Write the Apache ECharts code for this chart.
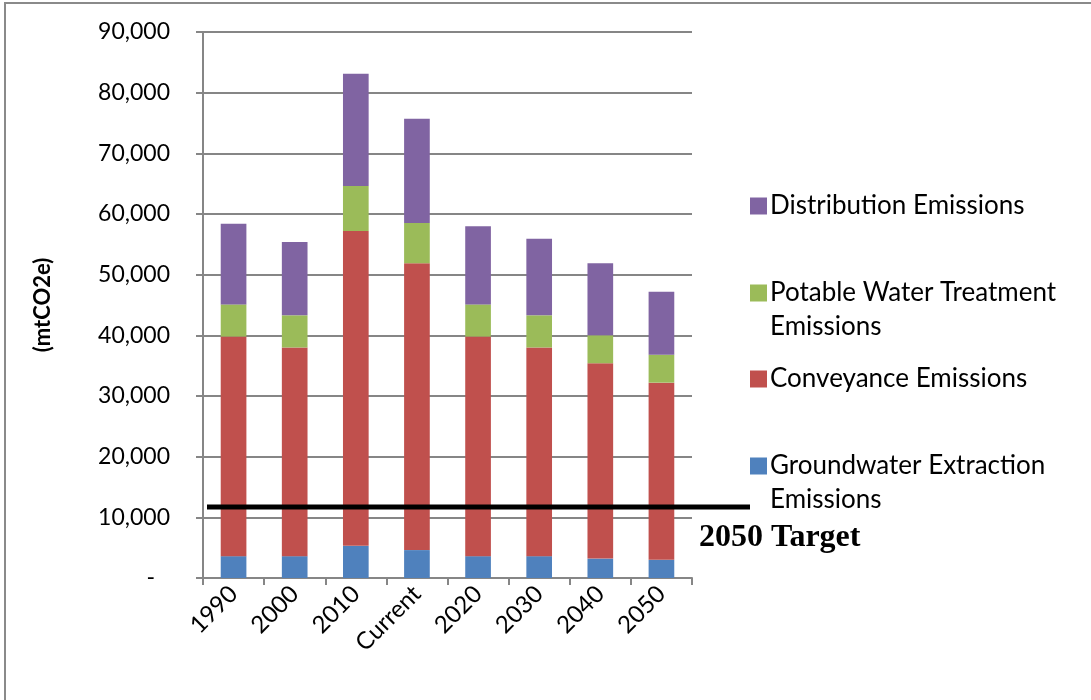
<!DOCTYPE html>
<html><head><meta charset="utf-8">
<script src="https://cdn.jsdelivr.net/npm/echarts@6/dist/echarts.min.js"></script>
<style>html,body{margin:0;padding:0;background:#fff}#c{width:1091px;height:700px}</style>
</head><body><div id="c"></div>
<script>
const categories = ['1990','2000','2010','Current','2020','2030','2040','2050'];
const groundwater = [3600, 3600, 5300, 4600, 3600, 3600, 3200, 3000];
const conveyance  = [36200, 34400, 51900, 47300, 36200, 34400, 32200, 29200];
const potable     = [5300, 5300, 7400, 6600, 5300, 5300, 4600, 4600];
const distribution= [13300, 12100, 18500, 17200, 12900, 12600, 11900, 10400];
const targetValue = 11700;
const seriesNames = ['Groundwater Extraction Emissions','Conveyance Emissions','Potable Water Treatment Emissions','Distribution Emissions'];
const seriesColors = ['#4F81BD','#C0504D','#9BBB59','#8064A2'];
const yTicks = {min:0, max:90000, interval:10000};

const FONT = 'Lato';
const chart = echarts.init(document.getElementById('c'), null, {renderer:'canvas'});
const data = [groundwater, conveyance, potable, distribution];
const series = data.map((d,i)=>({
  name: seriesNames[i], type:'bar', stack:'total', data:d, barWidth:'42%',
  itemStyle:{color:seriesColors[i]}
}));
const tallIcon = 'path://M0,0H17V17H0Z M0,51L0,51Z';
function leg(name, top, twoLine){
  return {
    data:[{name:name, icon: twoLine ? tallIcon : 'rect'}],
    left:745, top:top, orient:'vertical',
    itemWidth:17, itemHeight: twoLine ? 51 : 17, itemGap:0,
    selectedMode:false,
    formatter: n => n==='Potable Water Treatment Emissions' ? 'Potable Water Treatment\nEmissions'
                 : n==='Groundwater Extraction Emissions' ? 'Groundwater Extraction\nEmissions' : n,
    textStyle:{fontFamily:FONT, fontSize:26, color:'#000', lineHeight:34, padding:[0,0,0,-2]}
  };
}
chart.setOption({
  animation:false,
  grid:{left:203, right:399, top:32, bottom:122, containLabel:false},
  legend:[
    leg(seriesNames[3], 184, false),
    leg(seriesNames[2], 271, true),
    leg(seriesNames[1], 357, false),
    leg(seriesNames[0], 444, true)
  ],
  xAxis:{type:'category', data:categories,
    axisLine:{lineStyle:{color:'#868686', width:2}},
    axisTick:{show:true, length:7, lineStyle:{color:'#868686', width:2}},
    axisLabel:{rotate:45, fontFamily:FONT, fontSize:24, color:'#000', margin:12}
  },
  yAxis:{type:'value', min:yTicks.min, max:yTicks.max, interval:yTicks.interval,
    name:'(mtCO2e)', nameLocation:'middle', nameGap:149, nameRotate:90,
    nameTextStyle:{fontFamily:FONT, fontSize:22, fontWeight:'bold', color:'#000'},
    axisLine:{show:true, lineStyle:{color:'#868686', width:2}},
    axisTick:{show:true, length:7, lineStyle:{color:'#868686', width:2}},
    splitLine:{lineStyle:{color:'#868686', width:2}},
    axisLabel:{fontFamily:FONT, fontSize:23, color:'#000', margin:33,
      formatter: v => v===0 ? '{d|-}' : v.toLocaleString('en-US'),
      rich:{d:{fontFamily:FONT, fontSize:23, color:'#000', padding:[0,15,0,0]}}}
  },
  series: series
});
const ty = chart.convertToPixel({yAxisIndex:0}, targetValue);
chart.setOption({
  graphic:[
    {type:'rect', shape:{x:5, y:3, width:1200, height:800}, style:{fill:'none', stroke:'#8a8a8a', lineWidth:2}, z:100},
    {type:'line', shape:{x1:207, y1:ty, x2:750, y2:ty}, style:{stroke:'#000', lineWidth:5}, z:100},
    {type:'text', left:699, top:ty+15, style:{text:'2050 Target', font:'bold 32px "Liberation Serif"', fill:'#000'}, z:100}
  ]
});
</script></body></html>
